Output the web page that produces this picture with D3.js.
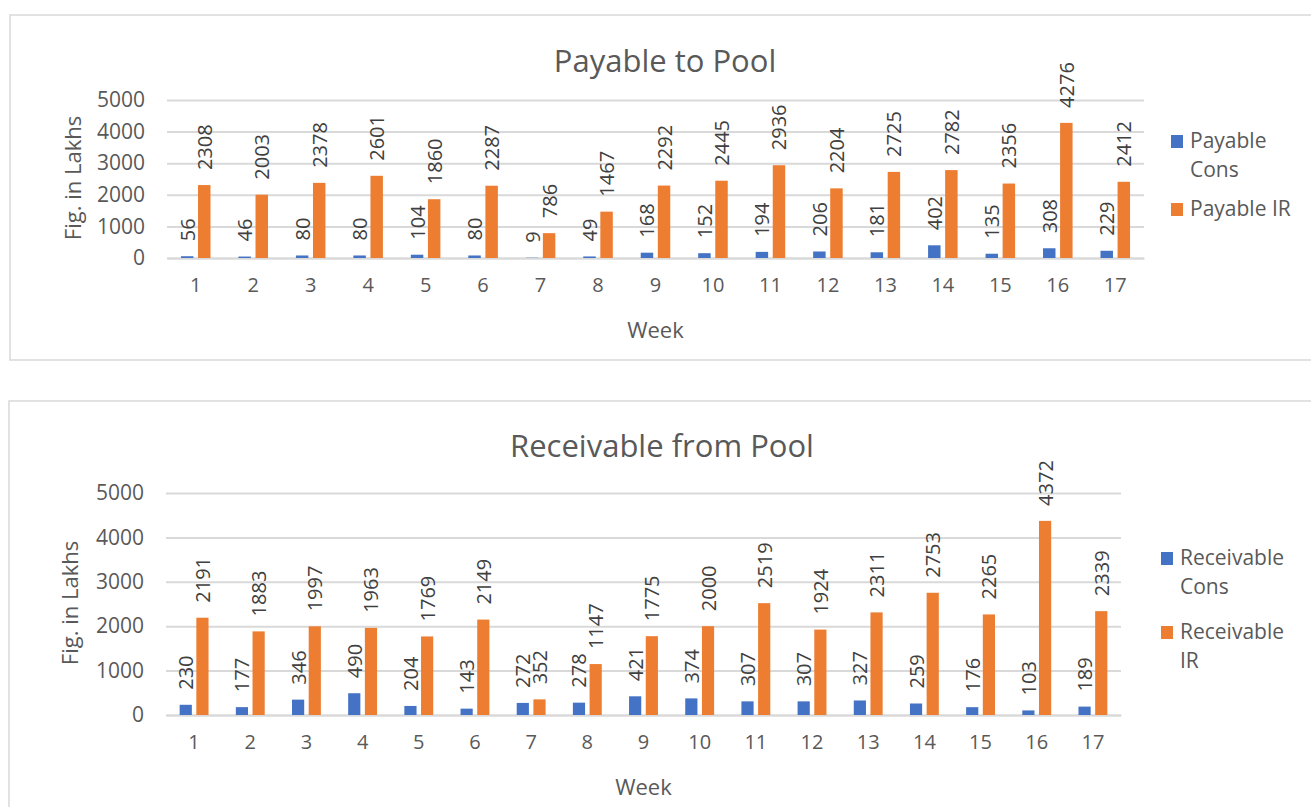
<!DOCTYPE html>
<html>
<head>
<meta charset="utf-8">
<script src="https://cdn.jsdelivr.net/npm/d3@7"></script>
<style>
  html, body { margin: 0; padding: 0; background: #fff; }
  svg { display: block; font-family: "Open Sans", sans-serif; }
</style>
</head>
<body>
<svg id="chart" width="1311" height="807"></svg>
<script>
// ---------- Data ----------
const weeks = ["1","2","3","4","5","6","7","8","9","10","11","12","13","14","15","16","17"];
const yTicks = [0, 1000, 2000, 3000, 4000, 5000];

const payableCons = [56, 46, 80, 80, 104, 80, 9, 49, 168, 152, 194, 206, 181, 402, 135, 308, 229];
const payableIR   = [2308, 2003, 2378, 2601, 1860, 2287, 786, 1467, 2292, 2445, 2936, 2204, 2725, 2782, 2356, 4276, 2412];

const receivableCons = [230, 177, 346, 490, 204, 143, 272, 278, 421, 374, 307, 307, 327, 259, 176, 103, 189];
const receivableIR   = [2191, 1883, 1997, 1963, 1769, 2149, 352, 1147, 1775, 2000, 2519, 1924, 2311, 2753, 2265, 4372, 2339];

const payableSeries = ["Payable Cons", "Payable IR"];
const receivableSeries = ["Receivable Cons", "Receivable IR"];
const payableLegend = [["Payable", "Cons"], ["Payable IR"]];
const receivableLegend = [["Receivable", "Cons"], ["Receivable", "IR"]];

const colors = ["#4472C4", "#ED7D31"];

const svg = d3.select("#chart");

function drawChart(cfg) {
  const g = svg.append("g");
  // frame
  g.append("rect")
    .attr("x", cfg.box[0]).attr("y", cfg.box[1])
    .attr("width", cfg.box[2]).attr("height", cfg.box[3])
    .attr("fill", "#fff").attr("stroke", "#d9d9d9").attr("stroke-width", 1.5);

  const x0 = d3.scaleBand().domain(weeks).range([cfg.left, cfg.right])
    .paddingInner(0.486).paddingOuter(0.243);
  const x1 = d3.scaleBand().domain(cfg.series).range([0, x0.bandwidth()])
    .paddingInner(0.27);
  const y = d3.scaleLinear().domain([0, 5000]).range([cfg.bottom, cfg.top]);

  // gridlines + y tick labels
  const yAxis = d3.axisLeft(y).tickValues(yTicks).tickSize(-(cfg.right - cfg.left)).tickPadding(22).tickFormat(d3.format("d"));
  const ya = g.append("g").attr("transform", `translate(${cfg.left},0)`).call(yAxis);
  ya.select(".domain").remove();
  ya.selectAll(".tick line").attr("stroke", "#d9d9d9").attr("stroke-width", 2);
  ya.selectAll(".tick text").attr("fill", "#595959").style("font-size", "21px")
    .style("font-family", "'Open Sans', sans-serif");

  // x tick labels
  const xAxis = d3.axisBottom(x0).tickSize(0).tickPadding(20);
  const xa = g.append("g").attr("transform", `translate(0,${cfg.bottom})`).call(xAxis);
  xa.select(".domain").attr("stroke", "#d9d9d9").attr("stroke-width", 2);
  xa.selectAll(".tick text").attr("fill", "#595959").style("font-size", "20px")
    .style("font-family", "'Open Sans', sans-serif");

  // bars
  const rows = weeks.map((w, i) => ({ w, vals: [cfg.data[0][i], cfg.data[1][i]] }));
  const grp = g.selectAll(".grp").data(rows).enter().append("g")
    .attr("transform", d => `translate(${x0(d.w)},0)`);
  grp.selectAll("rect").data(d => d.vals.map((v, k) => ({ v, k }))).enter().append("rect")
    .attr("x", d => x1(cfg.series[d.k]))
    .attr("width", x1.bandwidth())
    .attr("y", d => y(d.v))
    .attr("height", d => y(0) - y(d.v))
    .attr("fill", d => colors[d.k]);
  grp.selectAll("text").data(d => d.vals.map((v, k) => ({ v, k }))).enter().append("text")
    .attr("transform", d => `translate(${x1(cfg.series[d.k]) + x1.bandwidth() / 2},${y(d.v) - 15}) rotate(-90)`)
    .attr("text-anchor", "start")
    .attr("dominant-baseline", "central")
    .attr("fill", "#404040")
    .style("font-size", "20px")
    .text(d => d.v);

  // titles
  g.append("text").attr("x", cfg.titleX).attr("y", cfg.titleY)
    .attr("text-anchor", "middle").attr("fill", "#595959")
    .style("font-size", "31px").text(cfg.title);
  g.append("text").attr("x", (cfg.left + cfg.right) / 2).attr("y", cfg.weekY)
    .attr("text-anchor", "middle").attr("fill", "#595959")
    .style("font-size", "22px").text("Week");
  g.append("text")
    .attr("transform", `translate(${cfg.yLabelX},${cfg.yLabelY}) rotate(-90)`)
    .attr("text-anchor", "middle").attr("dominant-baseline", "central")
    .attr("fill", "#595959").style("font-size", "22px").text("Fig. in Lakhs");

  // legend
  cfg.legend.forEach((lines, k) => {
    const ly = cfg.legendY[k];
    g.append("rect").attr("x", cfg.legendX).attr("y", ly - 13)
      .attr("width", 12).attr("height", 13).attr("fill", colors[k]);
    const t = g.append("text").attr("x", cfg.legendX + 19).attr("y", ly)
      .attr("fill", "#595959").style("font-size", "21px");
    lines.forEach((ln, j) => {
      t.append("tspan").attr("x", j === 0 ? cfg.legendX + 19 : cfg.legendX + 19)
        .attr("dy", j === 0 ? 0 : 29).text(ln);
    });
  });
}

drawChart({
  box: [10, 15, 1310, 345],
  left: 167, right: 1144, top: 100, bottom: 258,
  series: payableSeries, data: [payableCons, payableIR],
  title: "Payable to Pool", titleX: 665, titleY: 72,
  weekY: 338, yLabelX: 72, yLabelY: 178,
  legend: payableLegend, legendX: 1171, legendY: [148, 216]
});

drawChart({
  box: [9, 401, 1310, 420],
  left: 166, right: 1121, top: 493, bottom: 715,
  series: receivableSeries, data: [receivableCons, receivableIR],
  title: "Receivable from Pool", titleX: 662, titleY: 457,
  weekY: 795, yLabelX: 69, yLabelY: 603,
  legend: receivableLegend, legendX: 1161, legendY: [565, 639]
});
</script>
</body>
</html>
